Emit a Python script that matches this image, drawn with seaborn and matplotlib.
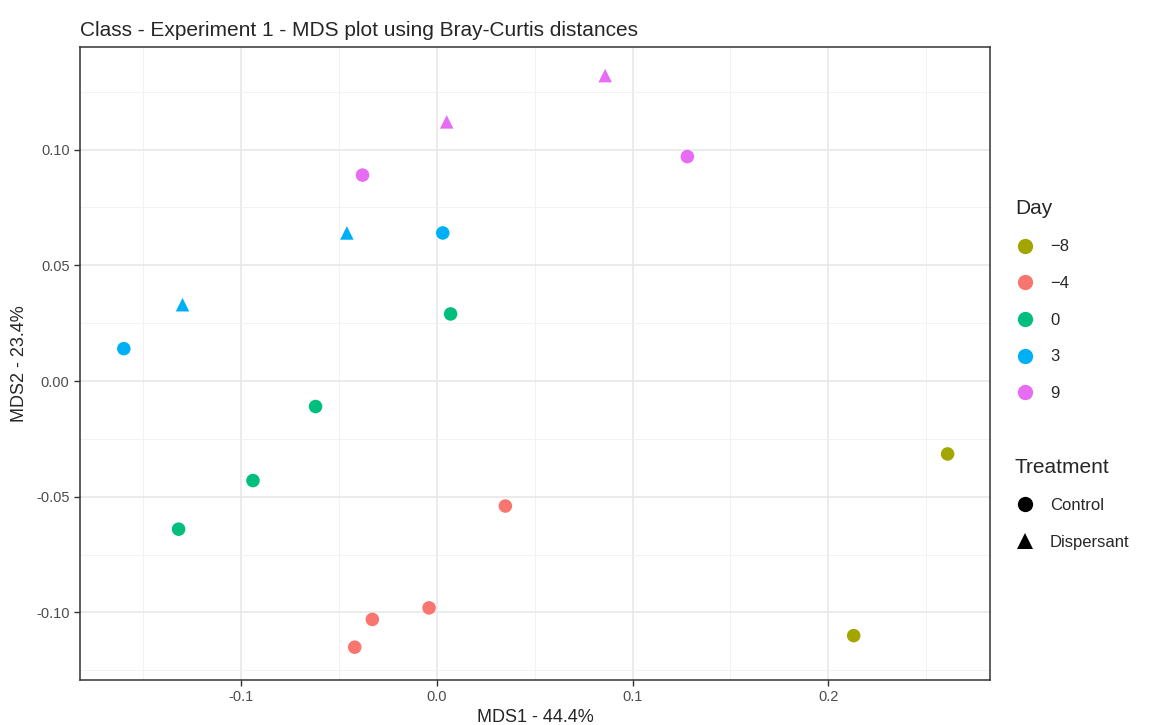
import pandas as pd
import matplotlib.pyplot as plt
import matplotlib.ticker as mticker
from matplotlib.lines import Line2D
import seaborn as sns

# -----------------------------------------------
# DATA
# -----------------------------------------------
mds1 = [0.261, 0.213,
        0.035, -0.004, -0.033, -0.042,
        0.007, -0.062, -0.094, -0.132,
        -0.160, 0.003, -0.130, -0.046,
        -0.038, 0.128, 0.005, 0.086]
mds2 = [-0.0315, -0.110,
        -0.054, -0.098, -0.103, -0.115,
        0.029, -0.011, -0.043, -0.064,
        0.014, 0.064, 0.033, 0.064,
        0.089, 0.097, 0.112, 0.132]
day = ["−8", "−8",
       "−4", "−4", "−4", "−4",
       "0", "0", "0", "0",
       "3", "3", "3", "3",
       "9", "9", "9", "9"]
treatment = ["Control", "Control",
             "Control", "Control", "Control", "Control",
             "Control", "Control", "Control", "Control",
             "Control", "Control", "Dispersant", "Dispersant",
             "Control", "Control", "Dispersant", "Dispersant"]

day_levels = ["−8", "−4", "0", "3", "9"]
day_colors = ["#A3A500", "#F8766D", "#00BF7D", "#00B0F6", "#E76BF3"]
treat_levels = ["Control", "Dispersant"]
treat_markers = {"Control": "o", "Dispersant": "^"}

x_ticks = [-0.1, 0.0, 0.1, 0.2]
x_labels = ["-0.1", "0.0", "0.1", "0.2"]
y_ticks = [-0.10, -0.05, 0.00, 0.05, 0.10]
y_labels = ["-0.10", "-0.05", "0.00", "0.05", "0.10"]

df = pd.DataFrame({"MDS1": mds1, "MDS2": mds2,
                   "Day": day, "Treatment": treatment})

# -----------------------------------------------
# PLOT
# -----------------------------------------------
sns.set_theme(style="white")
plt.rcParams["font.family"] = ["Liberation Sans", "DejaVu Sans"]

fig = plt.figure(figsize=(11.51, 7.25), dpi=100)
ax = fig.add_axes([0.0695, 0.062, 0.7905, 0.873])

# ggplot theme_bw style grid
ax.set_facecolor("white")
ax.set_xticks(x_ticks)
ax.set_yticks(y_ticks)
ax.xaxis.set_minor_locator(mticker.MultipleLocator(0.05))
ax.yaxis.set_minor_locator(mticker.MultipleLocator(0.025))
ax.grid(True, which="major", color="#E8E8E8", linewidth=1.2)
ax.grid(True, which="minor", color="#F2F2F2", linewidth=0.7)
ax.set_axisbelow(True)

sns.scatterplot(data=df, x="MDS1", y="MDS2",
                hue="Day", hue_order=day_levels, palette=day_colors,
                style="Treatment", style_order=treat_levels,
                markers=treat_markers, s=95, linewidth=0,
                legend=False, ax=ax)

ax.set_xlim(-0.1824, 0.2826)
ax.set_ylim(-0.1292, 0.1443)
ax.set_xticklabels(x_labels)
ax.set_yticklabels(y_labels)

ax.tick_params(which="major", direction="out", length=4.5, width=1,
               color="#333333", labelsize=10.5, labelcolor="#4D4D4D",
               bottom=True, left=True, pad=3)
ax.tick_params(which="minor", length=0)
for sp in ax.spines.values():
    sp.set_color("#333333")
    sp.set_linewidth(1.1)

ax.set_xlabel("MDS1 - 44.4%", fontsize=13, labelpad=3)
ax.set_ylabel("MDS2 - 23.4%", fontsize=13, labelpad=6)
ax.set_title("Class - Experiment 1 - MDS plot using Bray-Curtis distances",
             fontsize=15, loc="left", pad=8)

# Legends (Day colours, Treatment shapes)
day_handles = [Line2D([], [], marker="o", linestyle="", markersize=11,
                      markerfacecolor=c, markeredgewidth=0, label=l)
               for c, l in zip(day_colors, day_levels)]
leg1 = fig.legend(handles=day_handles, title="Day", loc="upper left",
                  bbox_to_anchor=(0.876, 0.735), frameon=False,
                  fontsize=12, title_fontsize=15, labelspacing=1.3,
                  handletextpad=0.9, borderaxespad=0, handlelength=1.2)
leg1._legend_box.align = "left"

treat_handles = [Line2D([], [], marker=treat_markers[t], linestyle="",
                        markersize=11, color="black",
                        markeredgewidth=0, label=t)
                 for t in treat_levels]
leg2 = fig.legend(handles=treat_handles, title="Treatment", loc="upper left",
                  bbox_to_anchor=(0.876, 0.378), frameon=False,
                  fontsize=12, title_fontsize=15, labelspacing=1.3,
                  handletextpad=0.9, borderaxespad=0, handlelength=1.2)
leg2._legend_box.align = "left"

plt.savefig("out.png", dpi=100)
plt.close()
